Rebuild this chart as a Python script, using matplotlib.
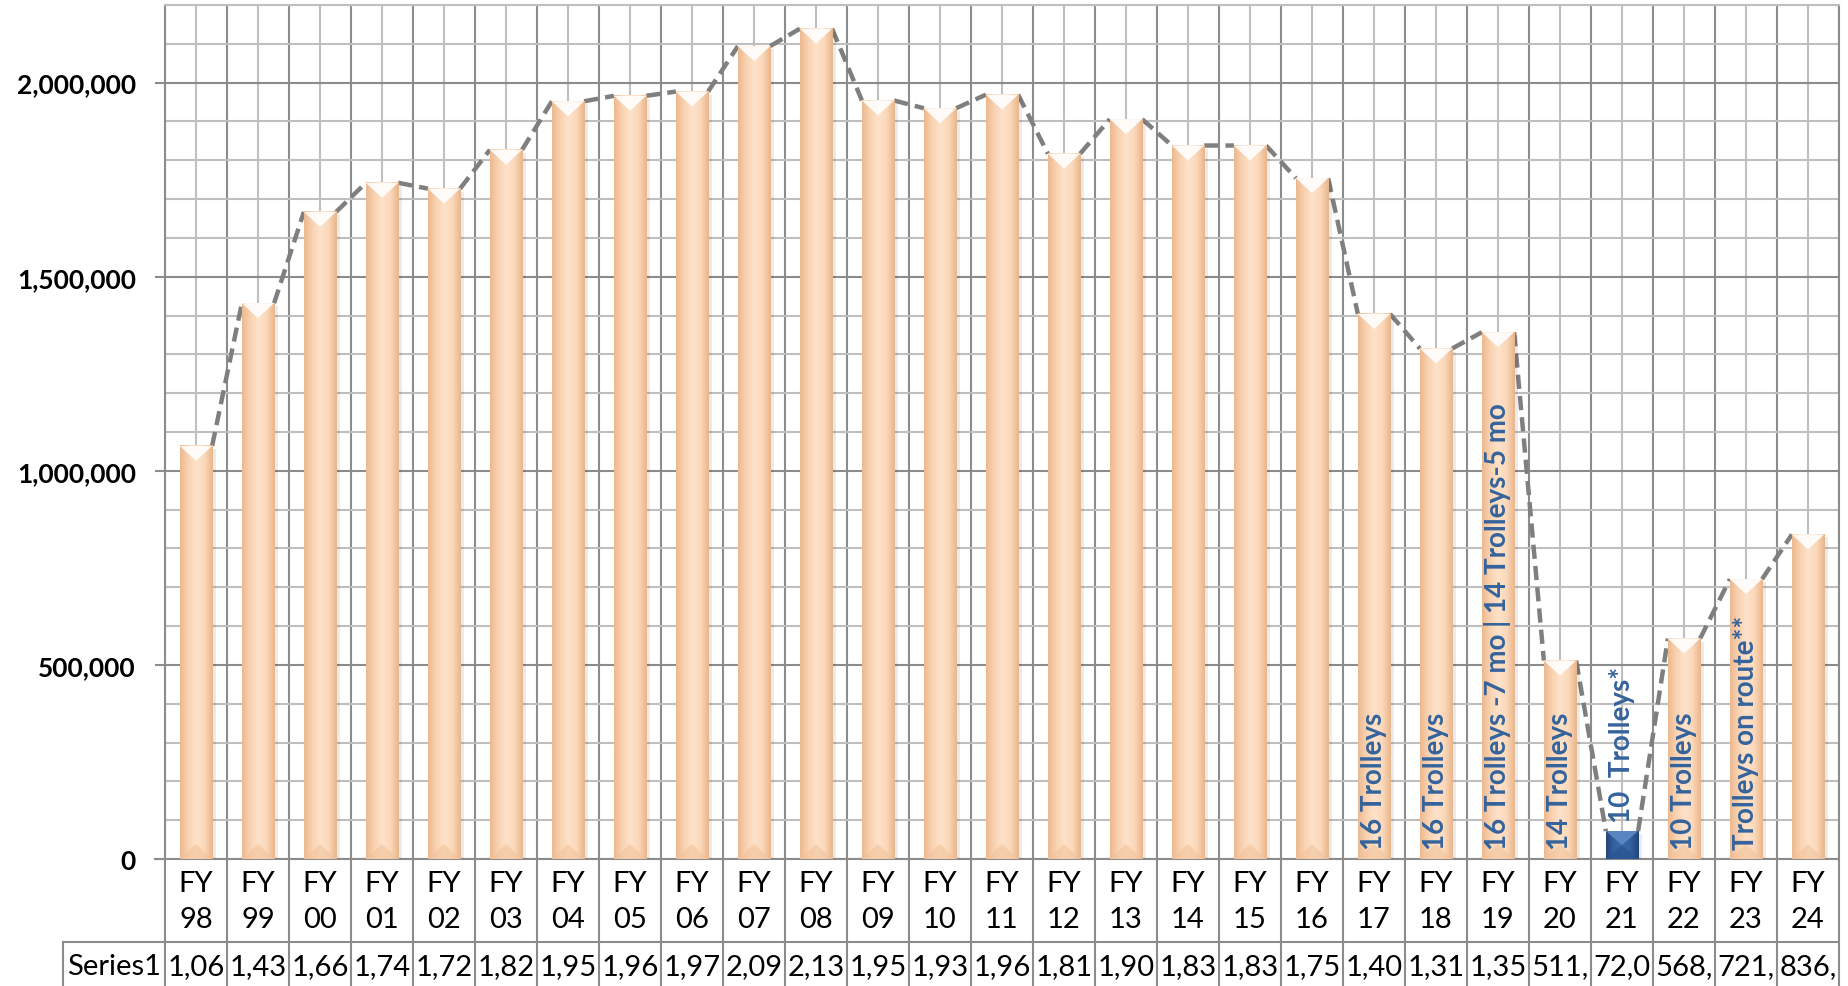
import numpy as np
import matplotlib
matplotlib.use("Agg")
from matplotlib import pyplot as plt
from matplotlib.colors import LinearSegmentedColormap
from matplotlib.patches import Polygon, Rectangle
from matplotlib.ticker import MultipleLocator
import matplotlib.transforms as mtransforms

plt.rcParams['font.family'] = ['Lato', 'DejaVu Sans']

# Ridership by fiscal year
years = ['98', '99', '00', '01', '02', '03', '04', '05', '06', '07', '08', '09', '10', '11',
         '12', '13', '14', '15', '16', '17', '18', '19', '20', '21', '22', '23', '24']
riders = [1064000, 1432000, 1667000, 1742000, 1727000, 1827000, 1952000, 1966000, 1977000,
          2094000, 2139000, 1954000, 1934000, 1969000, 1817000, 1906000, 1838000, 1838000,
          1754000, 1404000, 1315000, 1357000, 511000, 72000, 568000, 721000, 836000]
notes = [''] * 19 + ['16 Trolleys', '16 Trolleys', '16 Trolleys -7 mo | 14 Trolleys-5 mo',
                     '14 Trolleys', '10  Trolleys*', '10 Trolleys', 'Trolleys on route**', '']
series_name = 'Series1'
highlight = '21'

W, H = 1849, 987
fig = plt.figure(figsize=(W / 100, H / 100), dpi=100)
ax_left, ax_right, ax_top, ax_bot = 165, 1839, 6, 860
ax = fig.add_axes([ax_left / W, 1 - ax_bot / H, (ax_right - ax_left) / W, (ax_bot - ax_top) / H])

x = np.arange(len(years))
vals = np.array(riders, dtype=float)
bw = 0.52
ymax = 2200000
px = ymax / (ax_bot - ax_top)  # data units per pixel

# grid
dark, light = '#8C8C8C', '#BFBFBF'
for b in np.arange(len(years) + 1) - 0.5:
    ax.axvline(b, color=dark, lw=1.5, zorder=0)
for c in x:
    ax.axvline(c, color=light, lw=1.5, zorder=0)
yt = np.arange(0, ymax + 1, 500000)
ax.set_yticks(yt, [f"{int(v):,}" for v in yt], fontweight='bold', fontsize=19)
ax.yaxis.set_minor_locator(MultipleLocator(100000))
ax.grid(which='major', axis='y', color=dark, lw=1.5, zorder=0)
ax.grid(which='minor', axis='y', color=light, lw=1.5, zorder=0)
ax.tick_params(axis='y', which='major', length=7, width=1.5, color=dark, pad=14)
ax.tick_params(axis='y', which='minor', length=0)
ax.set_xticks([])
for s in ax.spines.values():
    s.set_color(dark)
    s.set_linewidth(1.5)
ax.spines['top'].set_color(light)

# dashed trend line between bar tops (hidden behind bars)
lx, ly = [], []
for i in range(len(x) - 1):
    lx += [x[i] + bw / 2, x[i + 1] - bw / 2, np.nan]
    ly += [vals[i], vals[i + 1], np.nan]
ax.plot(lx, ly, color='#7F7F7F', lw=3.2, dashes=(3.2, 1.6), zorder=2)

peach = LinearSegmentedColormap.from_list('peach', ['#EDB98F', '#F9D3B2', '#FDE2CA', '#FBD8BA', '#EAB58B'])
blue = LinearSegmentedColormap.from_list('blue', ['#22467A', '#3563A0', '#3A6AA8', '#3260A0', '#22467A'])
grad = np.linspace(0, 1, 64).reshape(1, -1)
d = 15 * px
for xi, v, yr in zip(x, vals, years):
    is_hl = yr == highlight
    x0, x1 = xi - bw / 2, xi + bw / 2
    # soft shadow
    ax.add_patch(Rectangle((x1, 0), 4 / 62, v - 3 * px, color='#000000', alpha=0.08, lw=0, zorder=3))
    ax.imshow(grad, extent=[x0, x1, 0, v], aspect='auto', cmap=blue if is_hl else peach,
              zorder=4, interpolation='bilinear')
    dd = min(d, v / 2)
    top_c = '#5C88C2' if is_hl else '#FFFFFF'
    bot_c = '#2B5590' if is_hl else '#F2C39C'
    ax.add_patch(Polygon([[x0, v], [x1, v], [xi, v - dd]], closed=True, color=top_c,
                         alpha=0.95 if is_hl else 0.9, lw=0, zorder=5))
    ax.add_patch(Polygon([[x0, 0], [x1, 0], [xi, dd]], closed=True, color=bot_c,
                         alpha=0.8 if is_hl else 0.6, lw=0, zorder=5))

# rotated notes
for xi, v, n in zip(x, vals, notes):
    if not n:
        continue
    y0 = v + 23000 if v < 200000 else 25000
    ax.text(xi, y0, n, rotation=90, ha='center', va='bottom', color='#35639B',
            fontsize=20, fontweight='bold', zorder=6)

ax.set_xlim(-0.5, len(years) - 0.5)
ax.set_ylim(0, ymax)
plt.setp(ax.get_yticklabels(), fontweight='bold', fontsize=19)

# data table beneath the axis
trans = mtransforms.blended_transform_factory(ax.transData, fig.transFigure)
fy = lambda p: 1 - p / H
row_mid = 943
for b in np.arange(len(years) + 1) - 0.5:
    ax.plot([b, b], [fy(ax_bot), fy(H + 5)], transform=trans, color=dark, lw=1.5, clip_on=False)
ax.plot([-0.5, len(years) - 0.5], [fy(row_mid), fy(row_mid)], transform=trans, color=dark,
        lw=1.5, clip_on=False)
fig.add_artist(plt.Line2D([63 / W, ax_left / W], [fy(row_mid), fy(row_mid)], color=dark, lw=1.5))
fig.add_artist(plt.Line2D([63 / W, 63 / W], [fy(row_mid), fy(H + 5)], color=dark, lw=1.5))
fig.add_artist(plt.Line2D([155 / W, ax_left / W], [fy(ax_bot), fy(ax_bot)], color=dark, lw=1.5))
for xi, yr, v in zip(x, years, vals):
    ax.text(xi, fy(884), 'FY', transform=trans, ha='center', va='center', fontsize=21)
    ax.text(xi, fy(920), yr, transform=trans, ha='center', va='center', fontsize=21)
    ax.text(xi, fy(967), f"{int(v):,}"[:4], transform=trans, ha='center', va='center', fontsize=21)
fig.text(67 / W, fy(967), series_name, ha='left', va='center', fontsize=21)

fig.savefig('out.png', dpi=100)
